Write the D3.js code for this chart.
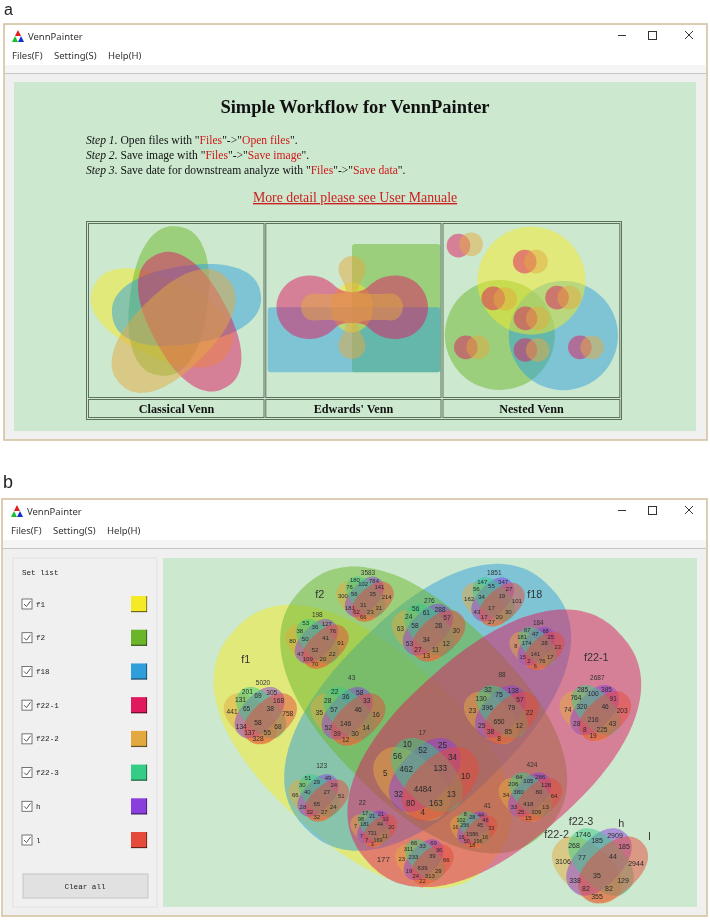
<!DOCTYPE html>
<html><head><meta charset="utf-8">
<style>html,body{margin:0;padding:0;background:#fff}svg{display:block;filter:blur(.3px)}</style>
<script src="https://cdn.jsdelivr.net/npm/d3@7"></script></head><body>
<svg id="c" width="710" height="921"></svg>
<script>
// ---------- data ----------
const setNames = ["f1","f2","f18","f22-1","f22-2","f22-3","h","l"];
const setColors = ["#f4ea26","#6ab52a","#2f9fdc","#e0185f","#e3a93f","#35cc85","#8a3fdc","#e64a3a"];
const menuItems = ["Files(F)","Setting(S)","Help(H)"];
const stepLabels = ["Step 1.","Step 2.","Step 3."];
const stepParts = [
 [" Open files with \"",["Files"],"\"->\"",["Open files"],"\"."],
 [" Save image with \"",["Files"],"\"->\"",["Save image"],"\"."],
 [" Save date for downstream analyze with \"",["Files"],"\"->\"",["Save data"],"\"."]];
const cellTitles = ["Classical Venn","Edwards' Venn","Nested Venn"];
// region counts order: g,p,o,r,og,gp,pr,ogp,gpr,all,op,gr,opr,ogr,or
const counts5020 = [201,305,441,758,131,69,168,65,38,58,134,68,137,55,328];
const counts198  = [53,127,80,91,38,36,76,50,41,52,47,22,109,20,70];
const counts3583 = [180,784,300,214,76,102,141,56,35,31,181,31,62,23,66];
const counts43   = [22,58,35,16,28,36,33,57,46,146,52,14,39,30,12];
const counts276  = [56,288,63,30,24,61,57,58,28,34,53,12,27,11,13];
const counts1851 = [147,347,162,101,56,55,27,34,19,17,43,30,17,20,27];
const counts184  = [67,68,8,23,181,47,25,174,28,141,15,17,2,76,6];
const counts88   = [32,138,23,22,130,75,57,396,79,650,25,12,38,85,8];
const counts2687 = [285,385,74,203,764,100,91,320,46,216,28,43,8,225,19];
const counts17   = [10,25,5,10,56,52,34,462,133,4484,32,13,80,163,4];
const counts123  = [51,49,66,51,30,29,24,40,27,65,28,24,32,27,32];
const counts22   = [17,21,7,20,98,21,10,181,44,731,7,11,7,169,3];
const counts177  = [66,69,23,66,311,33,36,233,39,639,19,29,24,313,22];
const counts41   = [8,44,16,33,102,28,46,256,45,1586,16,16,50,196,18];
const counts424  = [64,286,34,64,206,105,128,380,80,418,33,13,25,109,15];
const countsAll  = [1746,2909,3106,2944,268,185,185,77,44,35,338,129,82,82,355];

// ---------- layout (all in reference-crop units, mapped by scales) ----------
const px = d3.scaleLinear([0,1500],[160,660]);
const py = d3.scaleLinear([0,1080],[550,910]);
const cellX = d3.scaleLinear([0,1568],[80,630]);
const cellY = d3.scaleLinear([0,630],[215,425]);
const glyphs = [
 {t:"5020",tx:309,ty:397,cx:301,cy:495,s:.763,v:counts5020},
 {t:"198",tx:472,ty:194,cx:471,cy:280,s:.66,v:counts198},
 {t:"3583",tx:624,ty:67,cx:615,cy:146,s:.6,v:counts3583},
 {t:"43",tx:575,ty:382,cx:564,cy:497,s:.78,v:counts43},
 {t:"276",tx:808,ty:150,cx:806,cy:246,s:.766,v:counts276},
 {t:"1851",tx:1003,ty:67,cx:1000,cy:154,s:.653,v:counts1851},
 {t:"184",tx:1135,ty:217,cx:1131,cy:294,s:.574,v:counts184},
 {t:"88",tx:1026,ty:373,cx:1024,cy:492,s:.78,v:counts88},
 {t:"2687",tx:1312,ty:382,cx:1306,cy:487,s:.746,v:counts2687},
 {t:"17",tx:787,ty:546,cx:798,cy:685,s:1.1,v:counts17},
 {t:"123",tx:485,ty:645,cx:476,cy:742,s:.63,v:counts123},
 {t:"22",tx:607,ty:756,cx:641,cy:835,s:.49,v:counts22},
 {t:"177",tx:670,ty:927,cx:793,cy:935,s:.61,v:counts177,big:1},
 {t:"41",tx:982,ty:766,cx:941,cy:838,s:.49,v:counts41},
 {t:"424",tx:1116,ty:644,cx:1111,cy:740,s:.66,v:counts424},
 {t:"",tx:0,ty:0,cx:1320,cy:945,s:1,v:countsAll,fs:7}
];
const regionOffsets = [[-17,-31],[15,-30],[-37,-4],[36,-2],[-26,-20],[-3,-25],[24,-19],[-18,-8],[13,-8.5],[-3,10],[-25,15],[23,15],[-14,23],[9,23],[-3,31]];
const glyphEllipses = [
 {c:4,x:-13,y:5,a:40,b:24,r:42},
 {c:6,x:-1,y:-3,a:39,b:23,r:-47},
 {c:5,x:1,y:-3,a:39,b:23,r:47},
 {c:7,x:13,y:5,a:40,b:24,r:-42}];
const bigEllipses = [
 {c:0,x:608,y:590,a:520,b:290,r:42},
 {c:2,x:803,y:472,a:515,b:282,r:-45},
 {c:1,x:791,y:480,a:515,b:282,r:45},
 {c:3,x:1003,y:595,a:510,b:286,r:-41.6}];
const setLabels = [["f1",257,327],["f2",479,133],["f18",1124,133],["f22-1",1309,322],["f22-2",1190,852],["f22-3",1263,814],["h",1384,820],["l",1468,857]];
const classicEllipses = [
 {c:0,x:161.8,y:318,a:75,b:39,r:25},
 {c:1,x:168.8,y:301,a:75,b:39,r:-83},
 {c:2,x:186.5,y:305,a:75,b:39,r:-8.8},
 {c:3,x:189.7,y:321.7,a:75,b:39,r:61.7},
 {c:4,x:173.5,y:331,a:75,b:39,r:-45}];
const nestedBig = [{c:1,x:1197,y:360,r:55},{c:2,x:1378,y:362,r:54.6},{c:0,x:1287,y:197,r:54}];
const nestedPairs = [[1079,92,1115,88],[1268,140,1300,140],[1178,250,1212,252],[1360,248,1395,248],[1270,310,1305,310],[1100,397,1135,397],[1270,405,1305,405],[1425,397,1460,397]];

const svg = d3.select("#c");
const SANS = "'Noto Sans','Open Sans',sans-serif", ARIAL="'Liberation Sans',Arial,sans-serif", TIMES="'Liberation Serif','Times New Roman',serif", MONO="'Liberation Mono',monospace";
const BG="#cce8cf", FA=.5;
// rounded (super-elliptic) outline used for all Venn sets
const angles = d3.range(0,360,4).map(a=>a*Math.PI/180);
const rounded = d3.line().curve(d3.curveCardinalClosed.tension(.5));
function blobPath(a,b,n=2.3){
  return rounded(angles.map(t=>{
    const c=Math.cos(t),s=Math.sin(t);
    return [a*Math.sign(c)*Math.pow(Math.abs(c),2/n), b*Math.sign(s)*Math.pow(Math.abs(s),2/n)];
  }));
}
function blob(g,e,x,y,k=1){
  g.append("path").attr("d",blobPath(e.a*k,e.b*k))
   .attr("transform",`translate(${x},${y}) rotate(${e.r})`)
   .attr("fill",setColors[e.c]).attr("fill-opacity",FA);
}
function txt(g,s,x,y,o={}){
  const t=g.append("text").attr("x",x).attr("y",y).text(s)
   .attr("font-family",o.f||ARIAL).attr("font-size",o.s||10).attr("fill",o.c||"#222")
   .attr("text-anchor",o.a||"start").attr("dominant-baseline",o.b||"auto");
  if(o.w)t.attr("font-weight",o.w);
  if(o.u)t.attr("text-decoration","underline");
  return t;
}
function windowFrame(x0,y0,x1,y1,mx){
  svg.append("rect").attr("x",x0).attr("y",y0).attr("width",x1-x0).attr("height",y1-y0).attr("fill","#f0f0f0").attr("stroke","#d6c3a2").attr("stroke-width",1.6);
  svg.append("rect").attr("x",x0+1).attr("y",y0+1).attr("width",x1-x0-2).attr("height",40).attr("fill","#fff");
  svg.append("rect").attr("x",x0+1).attr("y",y0+41).attr("width",x1-x0-2).attr("height",8).attr("fill","#f5f5f5");
  svg.append("line").attr("x1",x0+1).attr("x2",x1-1).attr("y1",y0+49.5).attr("y2",y0+49.5).attr("stroke","#c6c6c6");
  const i=svg.append("g").attr("transform",`translate(${mx},${y0+6})`);
  i.append("path").attr("d","M6 0L9 6H3Z").attr("fill","#e02020");
  i.append("path").attr("d","M3 6L6 12H0Z").attr("fill","#18c030");
  i.append("path").attr("d","M9 6L12 12H6Z").attr("fill","#1030d0");
  txt(svg,"VennPainter",mx+16,y0+16,{f:SANS,s:9.5,c:"#333"});
  [0,42,96].forEach((p,k)=>txt(svg,menuItems[k],mx+p,y0+35,{f:SANS,s:9.5,c:"#333"}));
  const c=svg.append("g").attr("stroke","#333").attr("fill","none").attr("stroke-width",1);
  c.append("line").attr("x1",x1-89).attr("x2",x1-81).attr("y1",y0+11.5).attr("y2",y0+11.5);
  c.append("rect").attr("x",x1-58.5).attr("y",y0+7.5).attr("width",8).attr("height",8);
  c.append("path").attr("d",`M${x1-22} ${y0+7}l8 8m0 -8l-8 8`);
}

// ---- Panel a ----
txt(svg,"a",4,14.5,{f:ARIAL,s:16,c:"#222"});
windowFrame(4,24,707,440,12);
svg.append("rect").attr("x",14).attr("y",82).attr("width",682).attr("height",349).attr("fill",BG);
txt(svg,"Simple Workflow for VennPainter",355,113,{f:TIMES,s:18.5,w:"bold",a:"middle",c:"#111"});
stepLabels.forEach((l,k)=>{
  const t=txt(svg,"",86,[144,159,174][k],{f:TIMES,s:11.6,c:"#111"});
  t.append("tspan").attr("font-style","italic").text(l);
  stepParts[k].forEach(p=>{
    const red=Array.isArray(p);
    t.append("tspan").attr("fill",red?"#d01818":"#111").style("white-space","pre").text(red?p[0]:p);
  });
});
txt(svg,"More detail please see User Manuale",355,202,{f:TIMES,s:13.8,a:"middle",c:"#cc2020",u:1});
// table
const tb=svg.append("g").attr("fill","none").attr("stroke","#5f705f").attr("stroke-width",1);
tb.append("rect").attr("x",86.5).attr("y",221.5).attr("width",535).attr("height",198);
[[88.5,264],[265.8,441],[443,619.8]].forEach(([a,b])=>{
  tb.append("rect").attr("x",a).attr("y",223.5).attr("width",b-a).attr("height",174);
  tb.append("rect").attr("x",a).attr("y",399.5).attr("width",b-a).attr("height",18);
});
cellTitles.forEach((t,k)=>txt(svg,t,[176.5,353.5,531.5][k],413,{f:TIMES,s:12.2,w:"bold",a:"middle",c:"#111"}));
// classical
const gc=svg.append("g"); classicEllipses.forEach(e=>blob(gc,e,e.x,e.y));
// Edwards
const ge=svg.append("g");
const rr=(g,x,y,w,h,c)=>g.append("rect").attr("x",x).attr("y",y).attr("width",w).attr("height",h).attr("rx",3).attr("fill",setColors[c]).attr("fill-opacity",FA);
rr(ge,352,244,88.4,128.3,1);
rr(ge,267.7,307.3,172.7,65,2);
ge.append("ellipse").attr("cx",352).attr("cy",307.5).attr("rx",21).attr("ry",25).attr("fill",setColors[0]).attr("fill-opacity",FA);
ge.append("path").attr("fill",setColors[3]).attr("fill-opacity",FA).attr("d","M309 275.5C322 275.5 330 281 336 287C341 291 346 292 352 292C358 292 363 291 368 287C374 281 382 275.5 396 275.5C414 275.5 428 290 428 307.5C428 325 414 339 396 339C382 339 374 333 368 327C363 323 358 323 352 323C346 323 341 323 336 327C330 333 322 339 309 339C291 339 276.5 325 276.5 307.5C276.5 290 291 275.5 309 275.5Z");
ge.append("path").attr("fill",setColors[4]).attr("fill-opacity",FA).attr("d","M352 256C359.5 256 365.5 262 365.5 269C365.5 278 358 282 358 292C362 294 372 294 378 294C385 294 389 293.5 391 293.5C398 293.5 403 300 403 307C403 314 398 320.5 391 320.5C389 320.5 385 320 378 320C372 320 362 320 358 323C358 333 365.5 337 365.5 346C365.5 353 359.5 359 352 359C344.5 359 338.5 353 338.5 346C338.5 337 346 333 346 323C342 320 332 320 326 320C319 320 315 320.5 313 320.5C306 320.5 301 314 301 307C301 300 306 293.5 313 293.5C315 293.5 319 294 326 294C332 294 342 294 346 292C346 282 338.5 278 338.5 269C338.5 262 344.5 256 352 256Z");
// Nested
const gn=svg.append("g");
nestedBig.forEach(e=>gn.append("circle").attr("cx",cellX(e.x)).attr("cy",cellY(e.y)).attr("r",e.r).attr("fill",setColors[e.c]).attr("fill-opacity",FA));
nestedPairs.forEach(p=>{
  gn.append("circle").attr("cx",cellX(p[0])).attr("cy",cellY(p[1])).attr("r",11.8).attr("fill",setColors[3]).attr("fill-opacity",FA);
  gn.append("circle").attr("cx",cellX(p[2])).attr("cy",cellY(p[3])).attr("r",11.8).attr("fill",setColors[4]).attr("fill-opacity",FA);
});

// ---- Panel b ----
txt(svg,"b",3,488,{f:ARIAL,s:18,c:"#222"});
windowFrame(2,499,707,916,11);
svg.append("rect").attr("x",13).attr("y",558).attr("width",144).attr("height",349).attr("fill","#f0f0f0").attr("stroke","#e2e2e2");
svg.append("rect").attr("x",163).attr("y",558).attr("width",534).attr("height",349).attr("fill",BG);
txt(svg,"Set list",22,575,{f:MONO,s:7.6,c:"#222"});
const rowY=d3.scaleLinear([0,7],[604,840]);
setNames.forEach((n,k)=>{
  const y=rowY(k);
  svg.append("rect").attr("x",22).attr("y",y-5).attr("width",10).attr("height",10).attr("fill","#fff").attr("stroke","#555").attr("stroke-width",.8);
  svg.append("path").attr("d",`M24 ${y}l2.5 2.5l4 -5.5`).attr("fill","none").attr("stroke","#444").attr("stroke-width",.9);
  txt(svg,n,36,y+2.5,{f:MONO,s:7.6,c:"#222"});
  svg.append("rect").attr("x",131).attr("y",y-8).attr("width",16).attr("height",16).attr("fill",setColors[k]);
  svg.append("rect").attr("x",131).attr("y",y+7).attr("width",16).attr("height",1.2).attr("fill","#000").attr("fill-opacity",.55);
  svg.append("rect").attr("x",146).attr("y",y-8).attr("width",1.2).attr("height",16).attr("fill","#000").attr("fill-opacity",.4);
});
svg.append("rect").attr("x",23).attr("y",874).attr("width",125).attr("height",24).attr("fill","#e1e1e1").attr("stroke","#c4c4c4");
txt(svg,"Clear all",85,888.5,{f:MONO,s:7.6,a:"middle",c:"#222"});

const big=svg.append("g");
bigEllipses.forEach(e=>blob(big,e,px(e.x),py(e.y),1/3));
setLabels.forEach(l=>txt(svg,l[0],px(l[1]),py(l[2]),{s:10.8,a:"middle",b:"central",c:"#333"}));
glyphs.forEach(G=>{
  const g=svg.append("g").attr("transform",`translate(${px(G.cx)},${py(G.cy)})`);
  const sc=g.append("g").attr("transform",`scale(${G.s})`);
  glyphEllipses.forEach(e=>blob(sc,e,e.x,e.y));
  const fs=G.fs||3.2+4.5*G.s;
  G.v.forEach((v,i)=>{
    txt(g,v,regionOffsets[i][0]*G.s,regionOffsets[i][1]*G.s,{s:fs,a:"middle",b:"central",c:"#2a2a2a"});
  });
  if(G.t) txt(svg,G.t,px(G.tx),py(G.ty),{s:G.big?8:6.5,a:"middle",b:"central",c:"#333"});
});
</script></body></html>
